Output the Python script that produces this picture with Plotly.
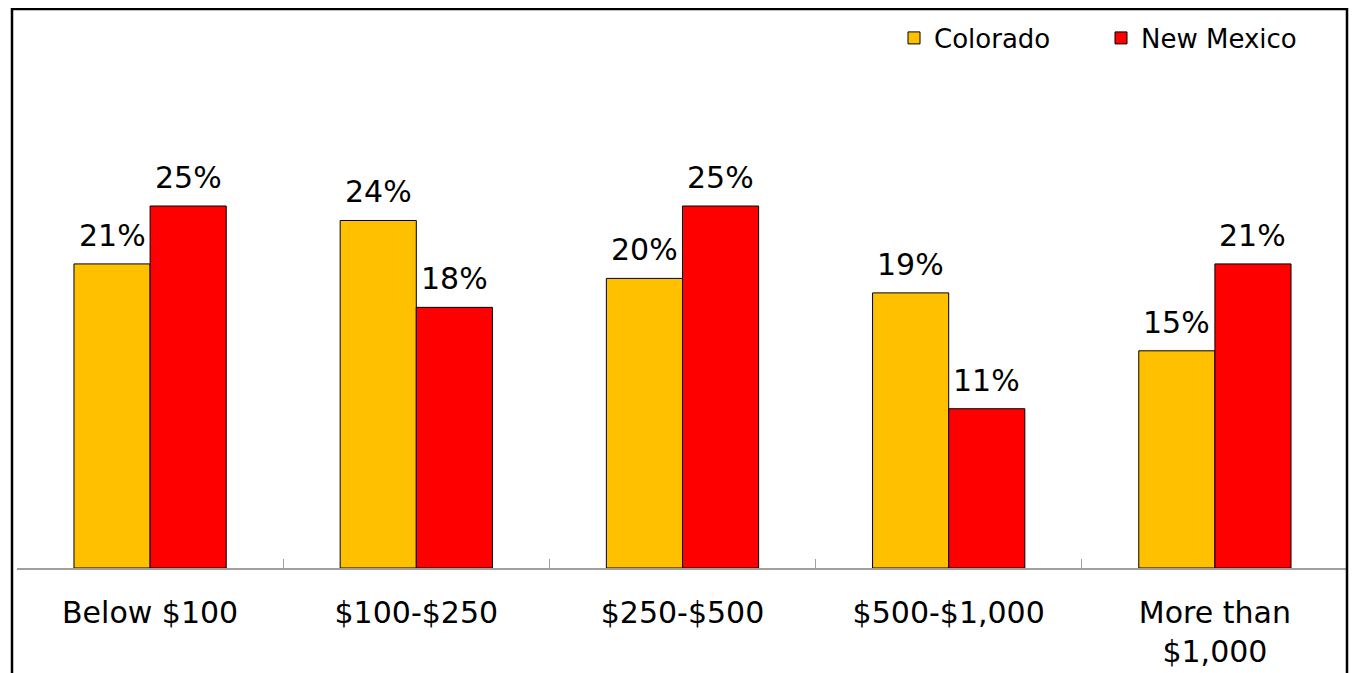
import plotly.graph_objects as go

categories = ["Below $100", "$100-$250", "$250-$500", "$500-$1,000", "More than<br>$1,000"]
colorado = [21, 24, 20, 19, 15]
new_mexico = [25, 18, 25, 11, 21]
series_names = ["Colorado", "New Mexico"]
colors = ["#FFC000", "#FF0000"]

FONT = "DejaVu Sans"

# page is rendered with an 8px body margin, so the figure origin sits at (8, 8)
W, H = 1343, 665
L, R, T, B = 9, 3, 22, 105
pw = W - L - R
ph = H - T - B
px_per_unit = 14.48
cat_w = pw / len(categories)
bargap = 0.428
bar_w = cat_w * (1 - bargap) / 2

fig = go.Figure()
for name, vals, col in zip(series_names, [colorado, new_mexico], colors):
    fig.add_trace(go.Bar(
        x=categories, y=vals, name=name,
        marker=dict(color=col, line=dict(color="black", width=1)),
    ))

annotations = []
for i, vals in enumerate([colorado, new_mexico]):
    shift = (-0.5 if i == 0 else 0.5) * bar_w
    for c, v in zip(categories, vals):
        annotations.append(dict(
            x=c, y=v, xref="x", yref="y", text=f"{v}%", showarrow=False,
            xanchor="center", yanchor="bottom", xshift=shift, yshift=9,
            font=dict(size=30, family=FONT, color="black"),
        ))

fig.update_layout(
    width=W, height=H,
    margin=dict(l=L, r=R, t=T, b=B, autoexpand=False),
    barmode="group", bargap=bargap, bargroupgap=0,
    plot_bgcolor="white", paper_bgcolor="white",
    font=dict(family=FONT, size=30, color="black"),
    legend=dict(orientation="h", x=(886 - L) / pw, xanchor="left",
                y=1 - 30 / H, yanchor="middle", yref="container",
                font=dict(size=26, family=FONT),
                entrywidth=162, entrywidthmode="pixels", bgcolor="rgba(0,0,0,0)",
                itemwidth=30, traceorder="normal"),
    showlegend=True,
    annotations=annotations,
    xaxis=dict(showline=True, linecolor="#A0A0A0", linewidth=2,
               ticks="inside", tickson="boundaries", ticklen=9, tickcolor="#A0A0A0",
               tickwidth=1, tickfont=dict(size=30, family=FONT),
               ticklabelstandoff=17, showgrid=False, zeroline=False),
    yaxis=dict(visible=False, range=[0, ph / px_per_unit], showgrid=False, zeroline=False),
)

fig.add_shape(type="rect", xref="paper", yref="paper",
              x0=(4 - L) / pw, x1=(W - R - 1 - L) / pw,
              y0=(H - 700 - B) / ph, y1=(H - 1 - B) / ph,
              line=dict(color="black", width=2.5), fillcolor="rgba(0,0,0,0)", layer="above")

fig.write_html("out.html")
